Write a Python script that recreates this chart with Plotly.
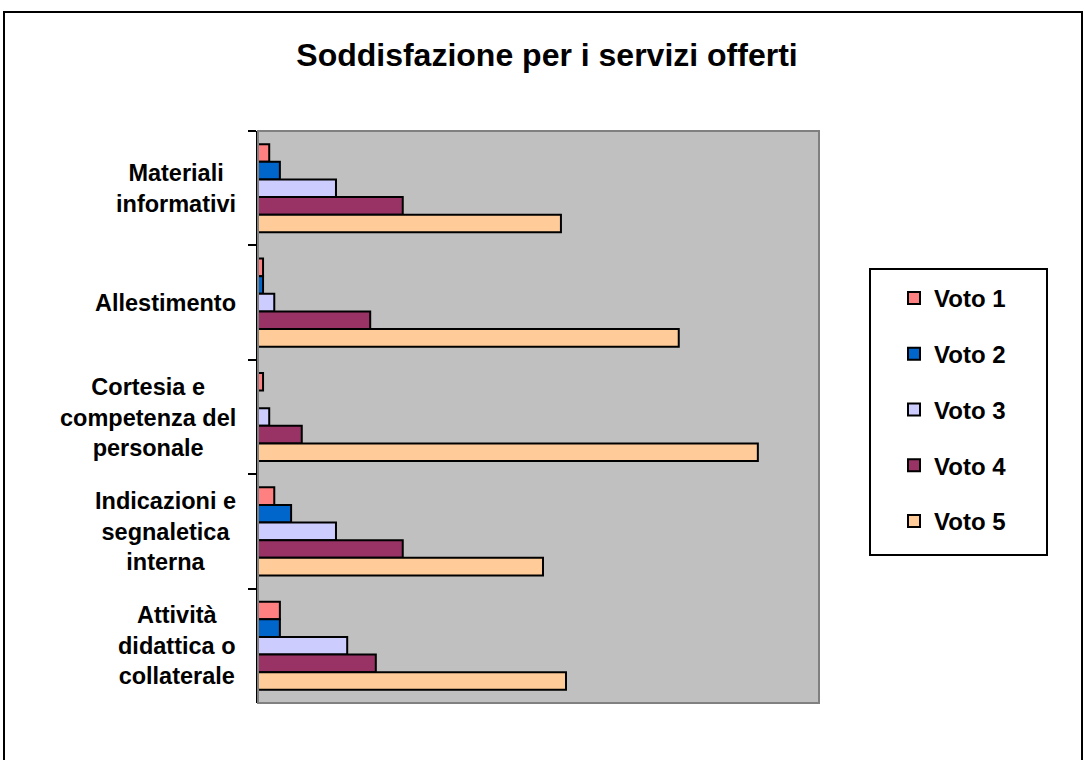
import plotly.graph_objects as go

categories = ["Materiali informativi", "Allestimento", "Cortesia e competenza del personale",
              "Indicazioni e segnaletica interna", "Attività didattica o collaterale"]
category_labels = ["Materiali<br>informativi", "Allestimento", "Cortesia e<br>competenza del<br>personale",
                   "Indicazioni e<br>segnaletica<br>interna", "Attività<br>didattica o<br>collaterale"]
series_names = ["Voto 1", "Voto 2", "Voto 3", "Voto 4", "Voto 5"]
voto1 = [2.0, 0.9, 0.9, 2.9, 3.9]
voto2 = [3.9, 0.9, 0.0, 5.9, 3.9]
voto3 = [13.9, 2.9, 2.0, 13.9, 15.9]
voto4 = [25.8, 20.0, 7.8, 25.8, 21.0]
voto5 = [54.0, 75.0, 89.1, 50.8, 54.9]
series_values = [voto1, voto2, voto3, voto4, voto5]
colors = ["#FF8080", "#0066CC", "#CCCCFF", "#993366", "#FFCC99"]

FONT = "Arial, Liberation Sans, sans-serif"

fig = go.Figure()
for name, vals, col in zip(series_names, series_values, colors):
    fig.add_trace(go.Bar(
        y=categories, x=vals, name=name, orientation="h",
        marker=dict(color=col, line=dict(color="black", width=2)),
        legendgroup=name,
    ))

W, H = 1085, 760
L, R, T, B = 258, 819, 131, 703

annotations = []
for cat, lab in zip(categories, category_labels):
    annotations.append(dict(
        text=lab, xref="paper", x=(238 - L) / (R - L), xanchor="right", align="center",
        yref="y", y=cat, yanchor="middle", showarrow=False,
        font=dict(family=FONT, size=23.5, color="black", weight="bold"),
    ))

shapes = [
    # plot area border
    dict(type="rect", xref="paper", yref="paper", x0=0, x1=1, y0=0, y1=1,
         line=dict(color="#808080", width=2), layer="above"),
    # legend box
    dict(type="rect", xref="paper", yref="paper",
         x0=(870 - L) / (R - L), x1=(1047 - L) / (R - L),
         y0=(B - 555) / (B - T), y1=(B - 269) / (B - T),
         line=dict(color="black", width=2), fillcolor="white", layer="below"),
    # outer chart border
    dict(type="rect", xref="paper", yref="paper",
         x0=(4 - L) / (R - L), x1=(1082 - L) / (R - L),
         y0=(B - 790) / (B - T), y1=(B - 12) / (B - T),
         line=dict(color="black", width=2), layer="below"),
]

fig.update_layout(
    width=W, height=H,
    margin=dict(l=L, r=W - R, t=T, b=H - B, pad=0),
    paper_bgcolor="white", plot_bgcolor="#C0C0C0",
    barmode="group", bargap=0.23, bargroupgap=0,
    title=dict(text="Soddisfazione per i servizi offerti", x=547 / W, xanchor="center",
               y=1 - 55 / H, yanchor="middle", yref="container",
               font=dict(family=FONT, size=32, color="black", weight="bold")),
    xaxis=dict(range=[0, 100], showticklabels=False, showgrid=False, zeroline=False,
               ticks="", showline=False, fixedrange=True),
    yaxis=dict(autorange="reversed", showticklabels=False, showgrid=False, zeroline=False,
               ticks="outside", tickson="boundaries", ticklen=8, tickwidth=2, tickcolor="black",
               showline=True, linecolor="black", linewidth=2),
    legend=dict(x=(894 - L) / (R - L), xanchor="left", y=(B - 276) / (B - T), yanchor="top",
                bgcolor="rgba(0,0,0,0)", borderwidth=0, tracegroupgap=21.5,
                traceorder="grouped", itemwidth=30,
                font=dict(family=FONT, size=24, color="black", weight="bold")),
    annotations=annotations, shapes=shapes,
    showlegend=True,
)

fig.write_html("out.html", config={"displayModeBar": False},
               post_script="document.body.style.margin='0px';")
